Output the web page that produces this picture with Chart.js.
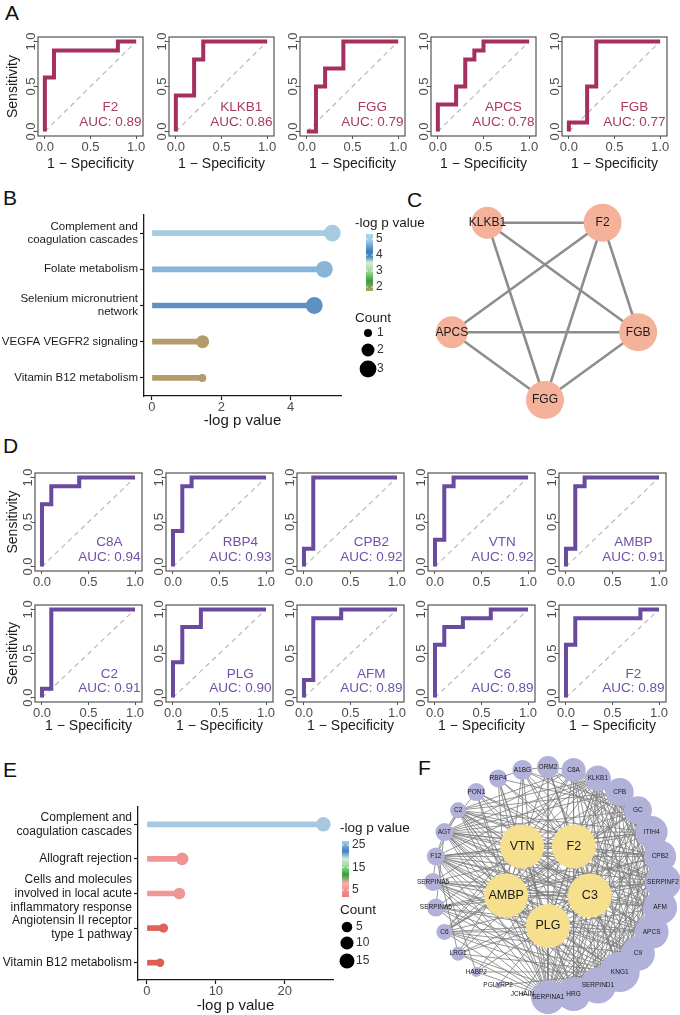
<!DOCTYPE html>
<html>
<head>
<meta charset="utf-8">
<title>ROC, enrichment and network panels</title>
<script src="https://cdn.jsdelivr.net/npm/chart.js@4.4.1/dist/chart.umd.min.js"></script>
<style>
  html, body { margin: 0; padding: 0; background: #fff; }
  body { position: relative; width: 680px; height: 1015px; overflow: hidden; font-family: "Liberation Sans", Arial, sans-serif; }
  canvas { position: absolute; }
  .tag { position: absolute; font-size: 21px; line-height: 1; color: #111; }
</style>
</head>
<body>
<div class="tag" style="left:5px;top:2px">A</div>
<div class="tag" style="left:3px;top:187px">B</div>
<div class="tag" style="left:407px;top:189px">C</div>
<div class="tag" style="left:3px;top:435px">D</div>
<div class="tag" style="left:3px;top:759px">E</div>
<div class="tag" style="left:418px;top:757px">F</div>
<script>
// ---------- data ----------
const rocTicks = [0, 0.5, 1];

// panel A: ROC of the five overlapping genes
const genesA = ['F2', 'KLKB1', 'FGG', 'APCS', 'FGB'];
const aucA = [0.89, 0.86, 0.79, 0.78, 0.77];
const fprA = [
  [0, 0, 0.1, 0.1, 0.8, 0.8, 1],
  [0, 0, 0.2, 0.2, 0.3, 0.3, 1],
  [0, 0.1, 0.1, 0.2, 0.2, 0.4, 0.4, 1],
  [0, 0, 0.2, 0.2, 0.3, 0.3, 0.4, 0.4, 0.5, 0.5, 1],
  [0, 0, 0.2, 0.2, 0.3, 0.3, 1]
];
const tprA = [
  [0, 0.6, 0.6, 0.9, 0.9, 1, 1],
  [0, 0.4, 0.4, 0.8, 0.8, 1, 1],
  [0, 0, 0.5, 0.5, 0.7, 0.7, 1, 1],
  [0, 0.3, 0.3, 0.5, 0.5, 0.8, 0.8, 0.9, 0.9, 1, 1],
  [0, 0.1, 0.1, 0.5, 0.5, 1, 1]
];

// panel D: ROC of the top ten genes
const genesD = ['C8A', 'RBP4', 'CPB2', 'VTN', 'AMBP', 'C2', 'PLG', 'AFM', 'C6', 'F2'];
const aucD = [0.94, 0.93, 0.92, 0.92, 0.91, 0.91, 0.90, 0.89, 0.89, 0.89];
const fprD = [
  [0, 0, 0.1, 0.1, 0.4, 0.4, 1],
  [0, 0, 0.1, 0.1, 0.2, 0.2, 1],
  [0, 0, 0.1, 0.1, 1],
  [0, 0, 0.1, 0.1, 0.2, 0.2, 1],
  [0, 0, 0.1, 0.1, 0.2, 0.2, 1],
  [0, 0, 0.1, 0.1, 1],
  [0, 0, 0.1, 0.1, 0.3, 0.3, 1],
  [0, 0, 0.1, 0.1, 0.4, 0.4, 1],
  [0, 0, 0.1, 0.1, 0.3, 0.3, 0.6, 0.6, 1],
  [0, 0, 0.1, 0.1, 0.8, 0.8, 1]
];
const tprD = [
  [0, 0.7, 0.7, 0.9, 0.9, 1, 1],
  [0, 0.4, 0.4, 0.9, 0.9, 1, 1],
  [0, 0.2, 0.2, 1, 1],
  [0, 0.3, 0.3, 0.9, 0.9, 1, 1],
  [0, 0.2, 0.2, 0.9, 0.9, 1, 1],
  [0, 0.1, 0.1, 1, 1],
  [0, 0.4, 0.4, 0.8, 0.8, 1, 1],
  [0, 0.2, 0.2, 0.9, 0.9, 1, 1],
  [0, 0.6, 0.6, 0.8, 0.8, 0.9, 0.9, 1, 1],
  [0, 0.6, 0.6, 0.9, 0.9, 1, 1]
];

// panel B: pathway enrichment of the five genes
const pathwaysB = [['Complement and', 'coagulation cascades'], 'Folate metabolism', ['Selenium micronutrient', 'network'], 'VEGFA VEGFR2 signaling', 'Vitamin B12 metabolism'];
const logpB = [5.2, 4.97, 4.68, 1.46, 1.45];
const countB = [3, 3, 3, 2, 1];
const xTicksB = [0, 2, 4];
const legendTicksB = [5, 4, 3, 2];
const legendCountsB = [1, 2, 3];

// panel C: PPI of the five genes
const genesC = ['FGG', 'APCS', 'KLKB1', 'F2', 'FGB'];
const edgesC = [['KLKB1', 'F2'], ['KLKB1', 'FGB'], ['KLKB1', 'FGG'], ['F2', 'APCS'], ['F2', 'FGG'], ['F2', 'FGB'], ['APCS', 'FGB'], ['APCS', 'FGG'], ['FGB', 'FGG']];

// panel E: pathway enrichment of the larger gene set
const pathwaysE = [['Complement and', 'coagulation cascades'], 'Allograft rejection', ['Cells and molecules', 'involved in local acute', 'inflammatory response'], ['Angiotensin II receptor', 'type 1 pathway'], 'Vitamin B12 metabolism'];
const logpE = [25.6, 5.1, 4.7, 2.4, 1.9];
const countE = [14, 9, 7, 3, 2];
const xTicksE = [0, 10, 20];
const legendTicksE = [25, 15, 5];
const legendCountsE = [5, 10, 15];

// panel F: PPI network, hubs inside, the rest on a ring
const hubsF = ['PLG', 'AMBP', 'VTN', 'F2', 'C3'];
const ringF = ['SERPINF2', 'AFM', 'APCS', 'C9', 'KNG1', 'SERPIND1', 'HRG', 'SERPINA1', 'JCHAIN', 'PGLYRP2', 'HABP2', 'LRG1', 'C6', 'SERPINA6', 'SERPINA5', 'F12', 'AGT', 'C2', 'PON1', 'RBP4', 'A1BG', 'ORM2', 'C8A', 'KLKB1', 'CFB', 'GC', 'ITIH4', 'CPB2'];
const linksF = [
  ['F2', 'VTN AMBP C3 PLG KNG1 SERPINA1 HRG SERPIND1 C9 APCS AFM SERPINF2 CPB2 ITIH4 GC CFB KLKB1 C8A ORM2 A1BG RBP4 PON1 C2 AGT F12 SERPINA5 C6 LRG1 HABP2'],
  ['VTN', 'AMBP C3 PLG KNG1 SERPINA1 HRG SERPIND1 C9 APCS AFM SERPINF2 CPB2 ITIH4 GC CFB KLKB1 C8A A1BG RBP4 PON1 C2 AGT F12 SERPINA6 C6 LRG1'],
  ['AMBP', 'C3 PLG KNG1 SERPINA1 HRG SERPIND1 C9 APCS AFM SERPINF2 CPB2 ITIH4 GC CFB KLKB1 C8A ORM2 A1BG RBP4 PON1 AGT F12 SERPINA5 SERPINA6 C6'],
  ['C3', 'PLG KNG1 SERPINA1 HRG SERPIND1 C9 APCS AFM SERPINF2 CPB2 ITIH4 GC CFB KLKB1 C8A A1BG ORM2 PON1 C2 AGT F12 SERPINA5 C6 LRG1 JCHAIN'],
  ['PLG', 'KNG1 SERPINA1 HRG SERPIND1 C9 APCS AFM SERPINF2 CPB2 ITIH4 GC CFB KLKB1 C8A ORM2 RBP4 C2 AGT F12 SERPINA5 SERPINA6 C6 LRG1 HABP2 PGLYRP2'],
  ['KNG1', 'SERPINA1 HRG SERPIND1 C9 APCS AFM SERPINF2 CPB2 ITIH4 GC CFB KLKB1 C8A ORM2 F12 C2 AGT SERPINA5 SERPINA6 C6 HABP2 LRG1 PGLYRP2'],
  ['SERPINA1', 'HRG SERPIND1 C9 APCS AFM SERPINF2 CPB2 ITIH4 GC CFB KLKB1 ORM2 A1BG RBP4 PON1 C2 AGT F12 SERPINA5 SERPINA6 C6 LRG1 HABP2 JCHAIN'],
  ['SERPIND1', 'HRG C9 APCS AFM SERPINF2 CPB2 ITIH4 GC CFB KLKB1 F12 AGT SERPINA5 SERPINA6 C6 C2'],
  ['HRG', 'C9 APCS AFM SERPINF2 CPB2 ITIH4 GC CFB KLKB1 C8A F12 C2 AGT SERPINA5 LRG1'],
  ['C9', 'APCS AFM SERPINF2 CPB2 ITIH4 GC CFB KLKB1 C8A C2 AGT F12 SERPINA5 C6'],
  ['APCS', 'AFM SERPINF2 CPB2 ITIH4 GC CFB KLKB1 C8A C2 AGT F12 SERPINA6 C6'],
  ['AFM', 'SERPINF2 CPB2 ITIH4 GC CFB C8A RBP4 A1BG AGT F12 SERPINA5'],
  ['SERPINF2', 'CPB2 ITIH4 GC CFB KLKB1 C8A ORM2 PON1 AGT F12 C2 SERPINA5 SERPINA6'],
  ['CPB2', 'ITIH4 GC CFB KLKB1 C8A F12 C2 AGT SERPINA6'],
  ['ITIH4', 'GC CFB KLKB1 C8A ORM2 A1BG AGT F12 C2'],
  ['GC', 'CFB KLKB1 C8A RBP4 A1BG AGT C6'],
  ['CFB', 'KLKB1 C8A C2 C6 AGT'],
  ['KLKB1', 'C8A F12 C2 AGT SERPINA5'],
  ['C8A', 'ORM2 C2 C6 AGT'],
  ['ORM2', 'A1BG'],
  ['A1BG', 'RBP4'],
  ['F12', 'C2 AGT SERPINA5 HABP2 LRG1'],
  ['AGT', 'C2 PON1 SERPINA6']
];

// ---------- styles ----------
const FONT = '"Liberation Sans", Arial, sans-serif';
const colorsB = ['#A6CAE0', '#88B4D7', '#5E90C3', '#B49C6A', '#B49C6A'];
const colorsE = ['#A7C9DF', '#EE9494', '#EE9797', '#E0625A', '#DF5C53'];
const radiusB = c => 6 * Math.sqrt(c) - 2;
const radiusE = c => 2.3 + 1.34 * Math.sqrt(c);
const ringRadiiF = [18, 17, 17, 17, 20, 18, 17, 17, 2, 3, 5, 7, 8, 9, 9, 9, 9, 8, 9, 9, 10, 11, 12, 13, 14, 14, 16, 16];

Chart.defaults.font.family = FONT;
Chart.defaults.animation = false;
Chart.defaults.responsive = false;
Chart.defaults.events = [];
Chart.defaults.plugins.legend.display = false;
Chart.defaults.plugins.tooltip.enabled = false;

function addCanvas(left, top, w, h) {
  const c = document.createElement('canvas');
  c.width = w; c.height = h;
  c.style.left = left + 'px'; c.style.top = top + 'px';
  c.style.width = w + 'px'; c.style.height = h + 'px';
  document.body.appendChild(c);
  return c;
}

// frame, rotated y labels and gene/AUC text for a ROC panel
function rocDecor(o) {
  return {
    id: 'rocDecor',
    afterDraw(chart) {
      const {ctx, chartArea: a, scales: {y}} = chart;
      ctx.save();
      ctx.strokeStyle = '#555'; ctx.lineWidth = 1.2;
      ctx.strokeRect(a.left, a.top, a.right - a.left, a.bottom - a.top);
      ctx.fillStyle = '#4d4d4d';
      ctx.font = '13px ' + FONT;
      ctx.textAlign = 'center'; ctx.textBaseline = 'alphabetic';
      y.ticks.forEach(t => {
        ctx.save();
        ctx.translate(a.left - 3.5, y.getPixelForValue(t.value));
        ctx.rotate(-Math.PI / 2);
        ctx.fillText(t.value.toFixed(1), 0, 0);
        ctx.restore();
      });
      // two-line label, centred together, tucked into the lower right corner
      ctx.fillStyle = o.textColor;
      ctx.font = '13.5px ' + FONT;
      ctx.textBaseline = 'middle';
      const aucText = 'AUC: ' + o.auc.toFixed(2);
      const tx = a.right - 1.5 - ctx.measureText(aucText).width / 2;
      ctx.fillText(o.gene, tx, y.getPixelForValue(0.27));
      ctx.fillText(aucText, tx, y.getPixelForValue(0.105));
      ctx.restore();
    }
  };
}

function rocChart(o) {
  const padT = 6, padR = 6;
  const cv = addCanvas(o.frameLeft - o.yW, o.frameTop - padT, o.yW + o.frameW + padR, padT + o.frameH + o.xH);
  new Chart(cv, {
    type: 'scatter',
    data: {
      datasets: [
        { data: o.fpr.map((v, i) => ({x: v, y: o.tpr[i]})), showLine: true, borderColor: o.color, borderWidth: 4,
          pointRadius: 0, borderJoinStyle: 'miter', borderCapStyle: 'butt' },
        { data: [{x: 0, y: 0}, {x: 1, y: 1}], showLine: true, borderColor: '#b8b8b8', borderWidth: 1.2,
          borderDash: [5, 4], pointRadius: 0 }
      ]
    },
    options: {
      layout: { padding: { left: 0, top: padT, right: padR, bottom: 0 }, autoPadding: false },
      scales: {
        x: {
          type: 'linear', min: -0.075, max: 1.075,
          afterBuildTicks: s => { s.ticks = rocTicks.map(v => ({value: v})); },
          afterFit: s => { s.height = o.xH; s.paddingLeft = 0; s.paddingRight = 0; },
          border: { display: false },
          grid: { drawOnChartArea: false, tickLength: 3, tickColor: '#555', tickWidth: 1 },
          ticks: { color: '#4d4d4d', font: { size: 13 }, padding: 1, maxRotation: 0, autoSkip: false,
                   callback: v => v.toFixed(1) },
          title: { display: o.xTitle, text: '1 \u2212 Specificity', color: '#1a1a1a', font: { size: 14 }, padding: 0 }
        },
        y: {
          type: 'linear', min: -0.05, max: 1.05,
          afterBuildTicks: s => { s.ticks = rocTicks.map(v => ({value: v})); },
          afterFit: s => { s.width = o.yW; s.paddingTop = 0; s.paddingBottom = 0; },
          border: { display: false },
          grid: { drawOnChartArea: false, tickLength: 3, tickColor: '#555', tickWidth: 1 },
          ticks: { display: false },
          title: { display: o.yTitle, text: 'Sensitivity', color: '#1a1a1a', font: { size: 14 }, padding: { top: 4.6, bottom: 0 } }
        }
      }
    },
    plugins: [rocDecor(o)]
  });
}

// panel A
genesA.forEach((g, c) => rocChart({
  frameLeft: 38 + 131 * c, frameTop: 37, frameW: 105, frameH: 99,
  yW: c === 0 ? 38 : 26, xH: 37, xTitle: true, yTitle: c === 0,
  gene: g, auc: aucA[c], fpr: fprA[c], tpr: tprA[c], color: '#A5305F', textColor: '#A83A66'
}));

// panel D, two rows of five
genesD.forEach((g, i) => {
  const c = i % 5, row = Math.floor(i / 5);
  rocChart({
    frameLeft: 35 + 131 * c, frameTop: row === 0 ? 473 : 605, frameW: 107, frameH: row === 0 ? 98 : 97,
    yW: c === 0 ? 35 : 26, xH: row === 0 ? 20 : 33, xTitle: row === 1, yTitle: c === 0,
    gene: g, auc: aucD[i], fpr: fprD[i], tpr: tprD[i], color: '#6A4A9E', textColor: '#7150A8'
  });
});

// colour bar + size legend beside a lollipop chart
function lolliLegend(o) {
  return {
    id: 'lolliLegend',
    afterDraw(chart) {
      const {ctx, chartArea: a} = chart;
      const L = a.right + o.dx;
      ctx.save();
      ctx.textAlign = 'left'; ctx.textBaseline = 'middle';
      ctx.fillStyle = '#1a1a1a'; ctx.font = '13.5px ' + FONT;
      ctx.fillText('-log p value', L, a.top + o.titleY);
      const bx = L + o.barDx, bt = a.top + o.barTop, bb = a.top + o.barBottom;
      const g = ctx.createLinearGradient(0, bt, 0, bb);
      o.stops.forEach(([p, c]) => g.addColorStop(p, c));
      ctx.fillStyle = g;
      ctx.fillRect(bx, bt, 7, bb - bt);
      ctx.font = '12px ' + FONT;
      o.ticks.forEach(v => {
        const yy = bt + (o.vTop - v) / (o.vTop - o.vBottom) * (bb - bt);
        ctx.strokeStyle = '#fff'; ctx.lineWidth = 1;
        ctx.beginPath();
        ctx.moveTo(bx, yy); ctx.lineTo(bx + 1.5, yy);
        ctx.moveTo(bx + 5.5, yy); ctx.lineTo(bx + 7, yy);
        ctx.stroke();
        ctx.fillStyle = '#333';
        ctx.fillText(String(v), bx + 10, yy);
      });
      ctx.fillStyle = '#1a1a1a'; ctx.font = '13.5px ' + FONT;
      ctx.fillText('Count', L, a.top + o.countY);
      ctx.font = '12px ' + FONT;
      o.counts.forEach((c, i) => {
        const yy = a.top + o.dotY[i];
        ctx.fillStyle = '#000';
        ctx.beginPath(); ctx.arc(L + o.dotDx, yy, o.radius(c), 0, Math.PI * 2); ctx.fill();
        ctx.fillStyle = '#333';
        ctx.fillText(String(c), L + o.dotDx + o.labDx, yy);
      });
      ctx.restore();
    }
  };
}

function lolliChart(o) {
  const cv = addCanvas(0, o.top, o.width, o.height);
  new Chart(cv, {
    type: 'bar',
    data: {
      labels: o.labels,
      datasets: [
        { type: 'line', data: o.values, showLine: false, pointRadius: o.counts.map(o.radius),
          pointBackgroundColor: o.colors, pointBorderWidth: 0, order: 0, clip: false },
        { type: 'bar', data: o.values, backgroundColor: o.colors, barThickness: 5, borderWidth: 0, order: 1 }
      ]
    },
    options: {
      indexAxis: 'y',
      layout: { padding: { left: 0, top: o.padTop, right: o.width - o.axisRight, bottom: 0 }, autoPadding: false },
      scales: {
        x: {
          type: 'linear', min: o.xMin, max: o.xMax,
          afterBuildTicks: s => { s.ticks = o.xTicks.map(v => ({value: v})); },
          afterFit: s => { s.height = o.xH; s.paddingLeft = 0; s.paddingRight = 0; },
          border: { display: true, color: '#1a1a1a', width: 1.3 },
          grid: { drawOnChartArea: false, tickLength: 4, tickColor: '#1a1a1a', tickWidth: 1.2 },
          ticks: { color: '#4d4d4d', font: { size: 13 }, padding: 0, maxRotation: 0, autoSkip: false },
          title: { display: true, text: '-log p value', color: '#1a1a1a', font: { size: 15 }, padding: 0 }
        },
        y: {
          type: 'category', offset: true,
          afterFit: s => { s.width = o.yW; s.paddingTop = 0; s.paddingBottom = 0; },
          border: { display: true, color: '#1a1a1a', width: 1.3 },
          grid: { offset: false, drawOnChartArea: false, tickLength: 4, tickColor: '#1a1a1a', tickWidth: 1.2 },
          ticks: { color: '#1a1a1a', font: o.labelFont, padding: 2, autoSkip: false }
        }
      }
    },
    plugins: [lolliLegend(o.legend)]
  });
}

lolliChart({
  top: 200, width: 440, height: 230, axisRight: 341, yW: 144, padTop: 15, xH: 34,
  labels: pathwaysB, values: logpB, counts: countB, colors: colorsB, radius: radiusB,
  labelFont: { size: 11.5, lineHeight: 1.13 },
  xMin: -0.23, xMax: 5.45, xTicks: xTicksB,
  legend: {
    dx: 14, titleY: 8, barDx: 11, barTop: 19, barBottom: 76, vTop: 5.31, vBottom: 1.75,
    ticks: legendTicksB, counts: legendCountsB, radius: radiusB,
    countY: 103, dotDx: 13, labDx: 9, dotY: [118, 135, 154],
    stops: [[0, '#AED3EC'], [0.12, '#A0C8E6'], [0.3, '#3C80C2'], [0.4, '#4A8BC6'], [0.5, '#D5ECD2'],
            [0.65, '#A5DA9E'], [0.82, '#35A238'], [1, '#B8A06C']]
  }
});

lolliChart({
  top: 790, width: 420, height: 225, axisRight: 333, yW: 138, padTop: 17, xH: 35,
  labels: pathwaysE, values: logpE, counts: countE, colors: colorsE, radius: radiusE,
  labelFont: { size: 12, lineHeight: 1.17 },
  xMin: -1.3, xMax: 27.0, xTicks: xTicksE,
  legend: {
    dx: 7, titleY: 21, barDx: 2, barTop: 34, barBottom: 90, vTop: 26.8, vBottom: 1.9,
    ticks: legendTicksE, counts: legendCountsE, radius: radiusE,
    countY: 103, dotDx: 7, labDx: 9, dotY: [120, 136, 154],
    stops: [[0, '#A8CFEA'], [0.18, '#3C80C2'], [0.32, '#D5ECD5'], [0.45, '#9ED79A'], [0.6, '#33A036'],
            [0.75, '#F4B0B0'], [1, '#EC7A78']]
  }
});

// ---------- networks ----------
function circleLayout(names, radius, startDeg, into) {
  names.forEach((n, i) => {
    const t = (startDeg + i * 360 / names.length) * Math.PI / 180;
    into[n] = {x: radius * Math.cos(t), y: radius * Math.sin(t)};
  });
  return into;
}

function netLabels(o) {
  return {
    id: 'netLabels',
    afterDatasetsDraw(chart) {
      const {ctx, scales: {x, y}} = chart;
      ctx.save();
      ctx.textAlign = 'center'; ctx.textBaseline = 'middle';
      o.names.forEach((n, i) => {
        ctx.font = o.fonts[i] + ' ' + FONT;
        ctx.fillStyle = '#1a1a1a';
        ctx.fillText(n, x.getPixelForValue(o.pos[n].x), y.getPixelForValue(o.pos[n].y));
      });
      ctx.restore();
    }
  };
}

function networkChart(o) {
  const cv = addCanvas(o.left, o.top, o.width, o.height);
  const edgePts = [];
  o.edges.forEach(([a, b]) => {
    edgePts.push({x: o.pos[a].x, y: o.pos[a].y}, {x: o.pos[b].x, y: o.pos[b].y}, {x: NaN, y: NaN});
  });
  new Chart(cv, {
    type: 'scatter',
    data: {
      datasets: [
        { data: o.names.map(n => ({x: o.pos[n].x, y: o.pos[n].y})), pointRadius: o.radii,
          pointBackgroundColor: o.colors, pointBorderWidth: 0, order: 0, clip: false },
        { data: edgePts, showLine: true, borderColor: o.edgeColor, borderWidth: o.edgeWidth,
          pointRadius: 0, spanGaps: false, order: 1, clip: false }
      ]
    },
    options: {
      layout: { padding: 0, autoPadding: false },
      scales: {
        x: { type: 'linear', display: false, min: -o.cx, max: o.width - o.cx },
        y: { type: 'linear', display: false, reverse: true, min: -o.cy, max: o.height - o.cy }
      }
    },
    plugins: [netLabels(o)]
  });
}

// C: five genes on a pentagon
const posC = circleLayout(genesC, 98, 90, {});
networkChart({
  left: 340, top: 175, width: 340, height: 250, cx: 205, cy: 127,
  names: genesC, pos: posC, edges: edgesC,
  radii: [19, 16, 16, 19, 19], colors: genesC.map(() => '#F5B29B'),
  fonts: genesC.map(() => '12px'), edgeColor: '#8d8d8d', edgeWidth: 2.6
});

// F: hubs inside, the rest on the outer ring
const posF = circleLayout(ringF, 115, 0, {});
circleLayout(hubsF, 44, 90, posF);
const edgesF = [];
linksF.forEach(([a, list]) => list.split(' ').forEach(b => edgesF.push([a, b])));
const namesF = ringF.concat(hubsF);
networkChart({
  left: 380, top: 755, width: 300, height: 260, cx: 168, cy: 127,
  names: namesF, pos: posF, edges: edgesF,
  radii: ringRadiiF.concat(hubsF.map(() => 22)),
  colors: ringF.map(() => '#B1B1D9').concat(hubsF.map(() => '#F6E08E')),
  fonts: ringF.map(() => '6.5px').concat(hubsF.map(() => '12.5px')),
  edgeColor: 'rgba(125,125,125,0.8)', edgeWidth: 1
});
</script>
</body>
</html>
